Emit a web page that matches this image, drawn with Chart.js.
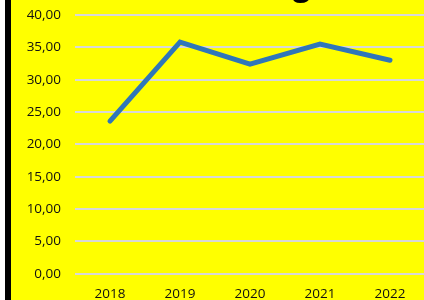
<!DOCTYPE html>
<html>
<head>
<meta charset="utf-8">
<script src="https://cdn.jsdelivr.net/npm/chart.js@4/dist/chart.umd.min.js"></script>
<style>
  html, body { margin: 0; padding: 0; background: #ffffff; overflow: hidden; width: 424px; height: 300px; }
  #frame { position: absolute; left: 5px; top: 0; width: 419px; height: 300px; border-left: 6px solid #000; background: #ffff00; overflow: hidden; }
  #c { position: absolute; left: 0; top: -31px; }
</style>
</head>
<body>
<div id="frame"><canvas id="c" width="414" height="345"></canvas></div>
<script>
const titleText = "Entwicklung";
const categories = ["2018", "2019", "2020", "2021", "2022"];
const values = [23.6, 35.8, 32.4, 35.5, 33.0];
const yTicks = [0, 5, 10, 15, 20, 25, 30, 35, 40];

const fmt = v => v.toFixed(2).replace('.', ',');

new Chart(document.getElementById('c'), {
  type: 'line',
  data: {
    labels: categories,
    datasets: [{
      data: values,
      borderColor: '#2f76b9',
      borderWidth: 5,
      pointRadius: 0,
      pointHoverRadius: 0,
      borderCapStyle: 'round',
      borderJoinStyle: 'miter',
      tension: 0,
      fill: false
    }]
  },
  options: {
    responsive: false,
    animation: false,
    devicePixelRatio: 1,
    layout: { padding: 0 },
    plugins: {
      legend: { display: false },
      tooltip: { enabled: false },
      title: {
        display: true,
        text: titleText,
        color: '#000',
        font: { family: 'Open Sans', size: 30, weight: 'bold' },
        padding: { top: 0, bottom: 10 }
      }
    },
    scales: {
      x: {
        offset: true,
        grid: { display: false, drawTicks: false },
        border: { display: false },
        ticks: {
          color: '#111',
          padding: 12,
          font: { family: 'Open Sans', size: 13.5 },
          maxRotation: 0
        }
      },
      y: {
        min: 0,
        max: 40,
        afterFit: s => { s.width = 64; },
        afterBuildTicks: s => { s.ticks = yTicks.map(v => ({ value: v })); },
        grid: { color: '#d8d8d8', lineWidth: 2, drawTicks: false },
        border: { display: false },
        ticks: {
          color: '#111',
          padding: 14,
          font: { family: 'Open Sans', size: 13.5 },
          callback: v => fmt(v)
        }
      }
    }
  }
});
</script>
</body>
</html>
